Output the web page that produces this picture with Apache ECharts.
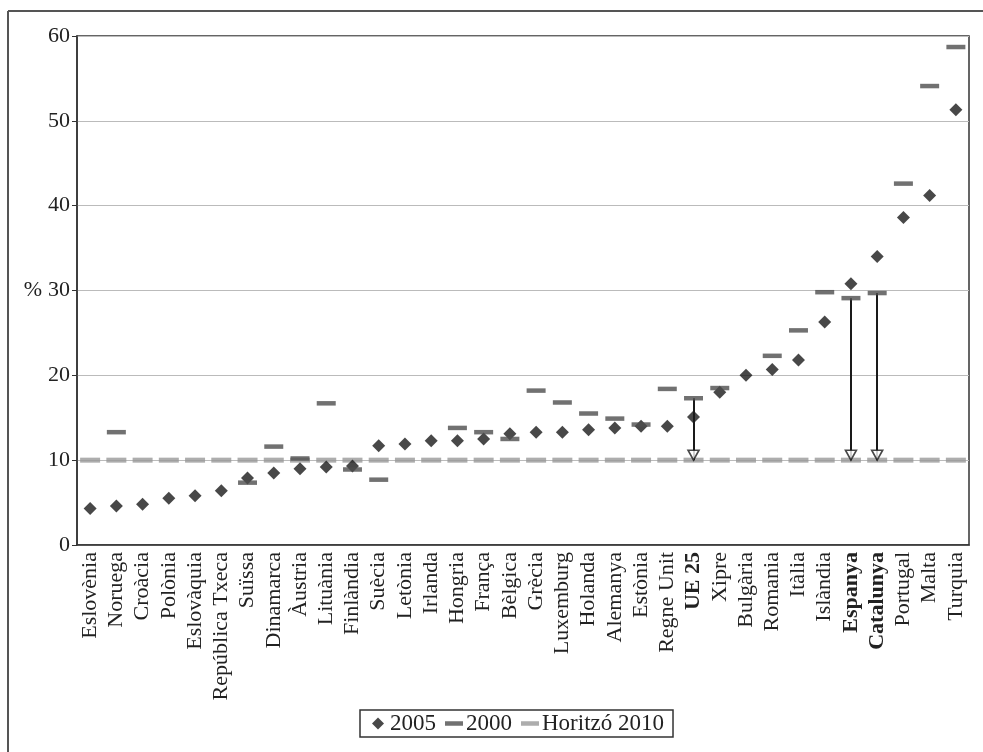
<!DOCTYPE html>
<html>
<head>
<meta charset="utf-8">
<script src="https://cdn.jsdelivr.net/npm/echarts@6/dist/echarts.min.js"></script>
<style>
html,body{margin:0;padding:0;background:#fff;}
#c{width:983px;height:752px;}
</style>
</head>
<body>
<div id="c"></div>
<script>
const categories = ['Eslovènia','Noruega','Croàcia','Polònia','Eslovàquia','República Txeca','Suïssa','Dinamarca','Àustria','Lituània','Finlàndia','Suècia','Letònia','Irlanda','Hongria','França','Bèlgica','Grècia','Luxemburg','Holanda','Alemanya','Estònia','Regne Unit','UE 25','Xipre','Bulgària','Romania','Itàlia','Islàndia','Espanya','Catalunya','Portugal','Malta','Turquia'];
const values2005 = [4.3,4.6,4.8,5.5,5.8,6.4,7.9,8.5,9.0,9.2,9.3,11.7,11.9,12.3,12.3,12.5,13.1,13.3,13.3,13.6,13.8,14.0,14.0,15.1,18.0,20.0,20.7,21.8,26.3,30.8,34.0,38.6,41.2,51.3];
const values2000 = [null,13.3,null,null,null,null,7.35,11.6,10.2,16.7,8.9,7.7,null,null,13.8,13.3,12.5,18.2,16.8,15.5,14.9,14.2,18.4,17.3,18.5,null,22.3,25.3,29.8,29.1,29.7,42.6,54.1,58.7];
const horizon2010 = [10,10,10,10,10,10,10,10,10,10,10,10,10,10,10,10,10,10,10,10,10,10,10,10,10,10,10,10,10,10,10,10,10,10];
const boldCategories = ['UE 25','Espanya','Catalunya'];
const arrowCategories = ['UE 25','Espanya','Catalunya'];
const seriesNames = ['2005','2000','Horitzó 2010'];
const yAxisName = '%';

const serif = '"Liberation Serif","DejaVu Serif",serif';
const chart = echarts.init(document.getElementById('c'), null, {renderer:'canvas'});

const arrowLines = arrowCategories.map(function(cat){
  const i = categories.indexOf(cat);
  return [{coord:[cat, values2000[i]]},{coord:[cat, horizon2010[i]]}];
});
const arrowHeads = arrowCategories.map(function(cat){
  const i = categories.indexOf(cat);
  return [cat, horizon2010[i]];
});

const option = {
  backgroundColor:'#fff',
  animation:false,
  graphic:[
    {type:'line', shape:{x1:8,y1:11,x2:983,y2:11}, style:{stroke:'#555',lineWidth:2}},
    {type:'line', shape:{x1:8,y1:11,x2:8,y2:752}, style:{stroke:'#555',lineWidth:2}}
  ],
  grid:{left:77,right:14,top:36,bottom:207,show:true,borderColor:'#333',borderWidth:1.5,backgroundColor:'transparent'},
  legend:{
    left:360, top:710,
    data:[
      {name:seriesNames[0], icon:'path://M5,0L10,5L5,10L0,5Z'},
      {name:seriesNames[1], icon:'path://M0,0H18V4.5H0Z'},
      {name:seriesNames[2], icon:'path://M0,0H18V4.5H0Z'}
    ],
    itemWidth:18, itemHeight:12, itemGap:9,
    borderColor:'#333', borderWidth:1.5, padding:[2,9,2,12],
    textStyle:{fontFamily:serif,fontSize:23,color:'#222',padding:[0,0,0,-2]}
  },
  xAxis:{
    type:'category', data:categories, boundaryGap:true,
    axisLine:{lineStyle:{color:'#333',width:1.5}},
    axisTick:{length:8,lineStyle:{color:'#333'}},
    axisLabel:{rotate:90, interval:0, margin:7, fontFamily:serif, fontSize:22, color:'#222',
      formatter:function(v){ return boldCategories.indexOf(v)>=0 ? '{b|'+v+'}' : v; },
      rich:{b:{fontFamily:serif,fontSize:22,fontWeight:'bold',color:'#222'}}
    },
    splitLine:{show:false}
  },
  yAxis:{
    type:'value', min:0, max:60, interval:10,
    name:yAxisName, nameLocation:'middle', nameRotate:0, nameGap:33,
    nameTextStyle:{fontFamily:serif,fontSize:22,color:'#222',align:'right'},
    axisLine:{show:true,lineStyle:{color:'#333',width:1.5}},
    axisTick:{show:true,length:5,lineStyle:{color:'#333'}},
    axisLabel:{fontFamily:serif,fontSize:22,color:'#222',margin:7},
    splitLine:{lineStyle:{color:'#bbb',width:1.2}}
  },
  series:[
    {
      name:seriesNames[2], type:'scatter', data:horizon2010, symbol:'rect', symbolSize:[20,5],
      itemStyle:{color:'#999'}, z:2
    },
    {
      name:'arrows', type:'scatter', data:[], z:3, silent:true,
      markLine:{silent:true, symbol:['none','none'], label:{show:false},
        lineStyle:{color:'#1a1a1a',width:2,type:'solid'}, data:arrowLines, z:3}
    },
    {
      name:seriesNames[0], type:'scatter', data:values2005, symbol:'diamond', symbolSize:[13,13],
      itemStyle:{color:'#1a1a1a'}, z:4
    },
    {
      name:seriesNames[1], type:'scatter', data:values2000, symbol:'rect', symbolSize:[19,4.5],
      itemStyle:{color:'#4d4d4d'}, z:5
    },
    {
      name:'arrowheads', type:'scatter', data:arrowHeads, symbol:'triangle', symbolRotate:180,
      symbolSize:[11,10], symbolOffset:[0,-5],
      itemStyle:{color:'#fff',borderColor:'#1a1a1a',borderWidth:1.6}, z:6, silent:true
    }
  ]
};
chart.setOption(option);
</script>
</body>
</html>
